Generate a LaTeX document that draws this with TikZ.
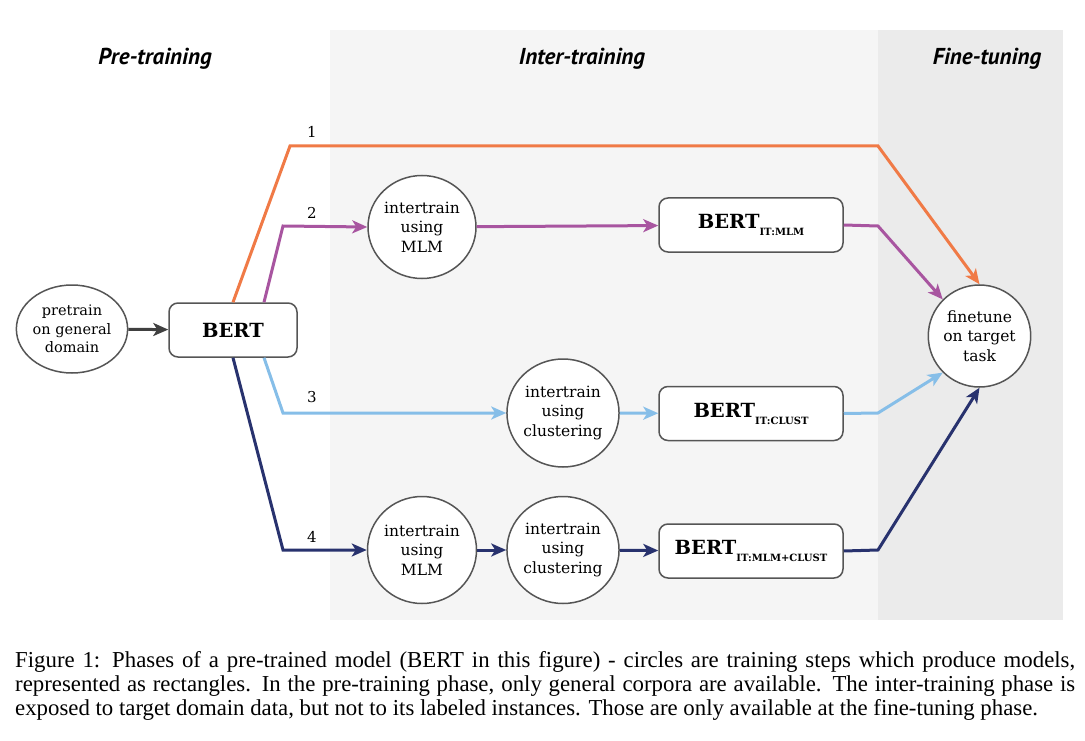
\documentclass[tikz,border=0pt]{standalone}
\usepackage{fontspec}
\setmainfont{Liberation Serif}
\newfontfamily\twfont{DejaVu Serif}
\newfontfamily\hdfont{PT Sans}
\usetikzlibrary{arrows.meta,shapes.geometric}
\definecolor{corange}{RGB}{240,122,70}
\definecolor{cpurple}{RGB}{168,85,160}
\definecolor{clblue}{RGB}{134,190,232}
\definecolor{cnavy}{RGB}{40,50,110}
\definecolor{cdark}{RGB}{64,64,64}
\definecolor{cborder}{RGB}{85,85,85}
\definecolor{bginter}{RGB}{245,245,245}
\definecolor{bgfine}{RGB}{235,235,235}
\newcommand\bertlabel[1]{{\bfseries\fontsize{19.5}{22}\selectfont BERT}\raisebox{-7pt}{\bfseries\fontsize{10}{10}\selectfont #1}}
\begin{document}
\begin{tikzpicture}[x=1pt,y=-1pt,
  trainstep/.style={ellipse, draw=cborder, line width=1.5pt, fill=white, inner sep=0pt,
    align=center, font=\twfont\fontsize{15.5}{19.5}\selectfont},
  modelbox/.style={rectangle, rounded corners=9pt, draw=cborder, line width=1.5pt, fill=white,
    inner sep=0pt, minimum width=184pt, minimum height=54pt, font=\twfont},
  flow/.style={line width=3pt, -{Stealth[length=15pt,width=13pt,inset=4pt]}},
  numlabel/.style={font=\twfont\fontsize{15}{18}\selectfont, inner sep=0pt},
  phase/.style={font=\hdfont\bfseries\itshape\fontsize{23}{26}\selectfont, inner sep=0pt},
  captionline/.style={anchor=base west, inner sep=0pt, font=\fontsize{22.8}{24}\selectfont}
]
\useasboundingbox (0,0) rectangle (1085,741);
\fill[white] (0,0) rectangle (1085,741);
\fill[bginter] (330,30) rectangle (878,620);
\fill[bgfine] (878,30) rectangle (1063,620);

\node[phase] (tpre) at (155,59) {Pre-training};
\node[phase] (tinter) at (582,59) {Inter-training};
\node[phase] (tfine) at (987,59) {Fine-tuning};

\node[trainstep, minimum width=90pt, minimum height=88pt, font=\twfont\fontsize{14.5}{18.5}\selectfont] (pre) at (72,329) {pretrain\\on general\\domain};
\node[modelbox, minimum width=128pt] (bert) at (233,330) {{\bfseries\fontsize{19.5}{22}\selectfont BERT}};

\node[trainstep, minimum width=108pt, minimum height=103pt] (mlma) at (422,227) {intertrain\\using\\MLM};
\node[modelbox] (bmlm) at (751,225) {\bertlabel{IT:MLM}};

\node[trainstep, minimum width=108pt, minimum height=108pt] (clua) at (563,413) {intertrain\\using\\clustering};
\node[modelbox] (bclu) at (751,413.5) {\bertlabel{IT:CLUST}};

\node[trainstep, minimum width=109pt, minimum height=107pt] (mlmb) at (422,550) {intertrain\\using\\MLM};
\node[trainstep, minimum width=108pt, minimum height=107pt] (club) at (563,550) {intertrain\\using\\clustering};
\node[modelbox] (bmc) at (751,551) {\bertlabel{IT:MLM+CLUST}};

\node[trainstep, minimum width=89pt, minimum height=102pt] (fine) at (979.5,336) {finetune\\on target\\task};

\node[numlabel] (n1) at (312,132) {1};
\node[numlabel] (n2) at (312,213) {2};
\node[numlabel] (n3) at (312,397) {3};
\node[numlabel] (n4) at (312,537) {4};

\coordinate (o1) at (290,146);
\coordinate (o2) at (878,146);
\coordinate (p1) at (283,226);
\coordinate (p2) at (878,226);
\coordinate (l1) at (283,413);
\coordinate (l2) at (878,413);
\coordinate (v1) at (283,550);
\coordinate (v2) at (878,550);

\draw[flow, cdark] (pre) -- (bert);

\draw[flow, corange] (bert.north) -- (o1) -- (o2) -- (fine.north);

\draw[flow, cpurple] ([xshift=31pt]bert.north) -- (p1) -- (mlma.west);
\draw[flow, cpurple] (mlma) -- (bmlm);
\draw[flow, cpurple] (bmlm.east) -- (p2) -- (fine.north west);

\draw[flow, clblue] ([xshift=31pt]bert.south) -- (l1) -- (clua.west);
\draw[flow, clblue] (clua) -- (bclu);
\draw[flow, clblue] (bclu.east) -- (l2) -- (fine.south west);

\draw[flow, cnavy] (bert.south) -- (v1) -- (mlmb.west);
\draw[flow, cnavy] (mlmb) -- (club);
\draw[flow, cnavy] (club) -- (bmc);
\draw[flow, cnavy] (bmc.east) -- (v2) -- (fine.south);

\node[captionline] (cap1) at (15,667) {\makebox[1060pt][s]{Figure 1: Phases of a pre-trained model (BERT in this figure) - circles are training steps which produce models,}};
\node[captionline] (cap2) at (15,691) {\makebox[1060pt][s]{represented as rectangles. In the pre-training phase, only general corpora are available. The inter-training phase is}};
\node[captionline] (cap3) at (15,715) {exposed to target domain data, but not to its labeled instances. Those are only available at the fine-tuning phase.};
\end{tikzpicture}
\end{document}
